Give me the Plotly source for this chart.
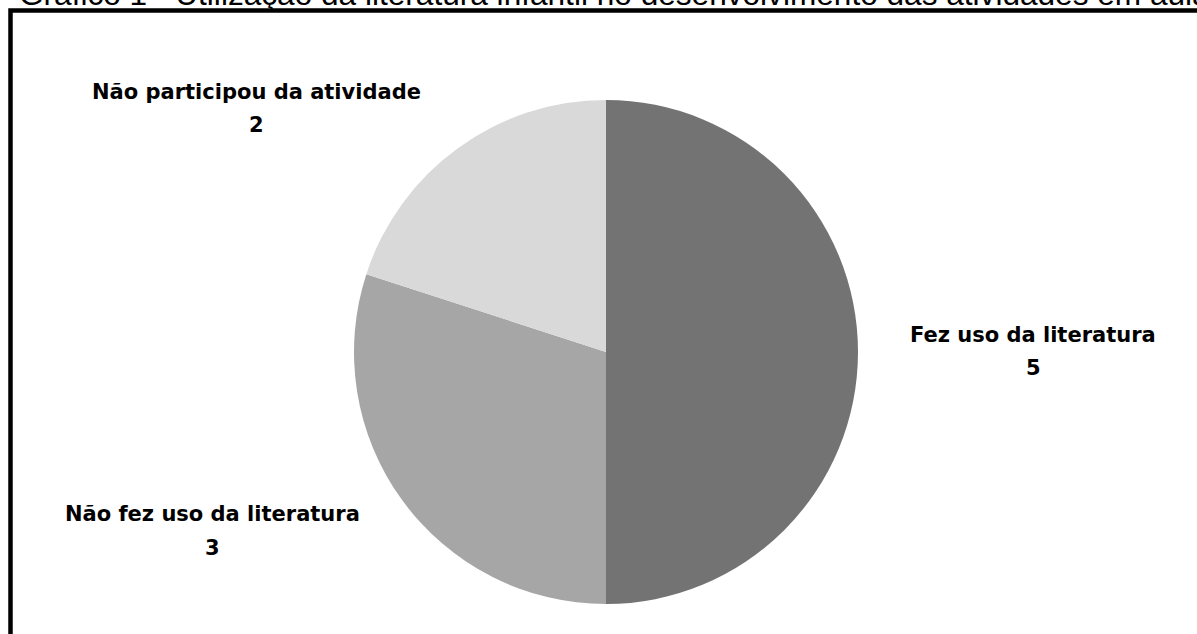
import plotly.graph_objects as go

W, H = 1197, 634

title_text = "Gráfico 1 - Utilização da literatura infantil no desenvolvimento das atividades em aula"
categories = ["Fez uso da literatura", "Não fez uso da literatura", "Não participou da atividade"]
values = [5, 3, 2]
colors = ["#737373", "#a6a6a6", "#d9d9d9"]

# label anchor positions (pixels): name line centre, value line centre
label_pos = [(1033, 335, 368), (212, 514, 548), (256, 92, 125)]

def px(x):
    return x / W

def py(y):
    return 1 - y / H

cx, cy, r = 606, 352, 252

fig = go.Figure()
fig.add_trace(go.Pie(
    labels=categories,
    values=values,
    marker=dict(colors=colors, line=dict(width=0)),
    sort=False,
    direction="clockwise",
    rotation=0,
    textinfo="none",
    hoverinfo="label+value",
    showlegend=False,
    domain=dict(x=[px(cx - r), px(cx + r)], y=[py(cy + r), py(cy - r)]),
))

label_font = dict(family="DejaVu Sans", size=21, color="#000000", weight=700)
for name, val, (lx, ly1, ly2) in zip(categories, values, label_pos):
    fig.add_annotation(x=px(lx), y=py(ly1), xref="paper", yref="paper", text=name,
                       showarrow=False, xanchor="center", yanchor="middle", font=label_font)
    fig.add_annotation(x=px(lx), y=py(ly2), xref="paper", yref="paper", text=str(val),
                       showarrow=False, xanchor="center", yanchor="middle", font=label_font)

fig.add_annotation(x=px(17), y=py(14), xref="paper", yref="paper", text=title_text,
                   showarrow=False, xanchor="left", yanchor="bottom",
                   font=dict(family="Liberation Sans", size=31.6, color="#000000"))

fig.add_shape(type="rect", xref="paper", yref="paper",
              x0=px(10.5), x1=px(W + 20), y0=py(H + 20), y1=py(10.5),
              line=dict(color="#000000", width=4.5), fillcolor="rgba(0,0,0,0)")

fig.update_layout(width=W, height=H, margin=dict(l=0, r=0, t=0, b=0),
                  paper_bgcolor="white", plot_bgcolor="white")

fig.write_html("out.html", config={"displayModeBar": False})
